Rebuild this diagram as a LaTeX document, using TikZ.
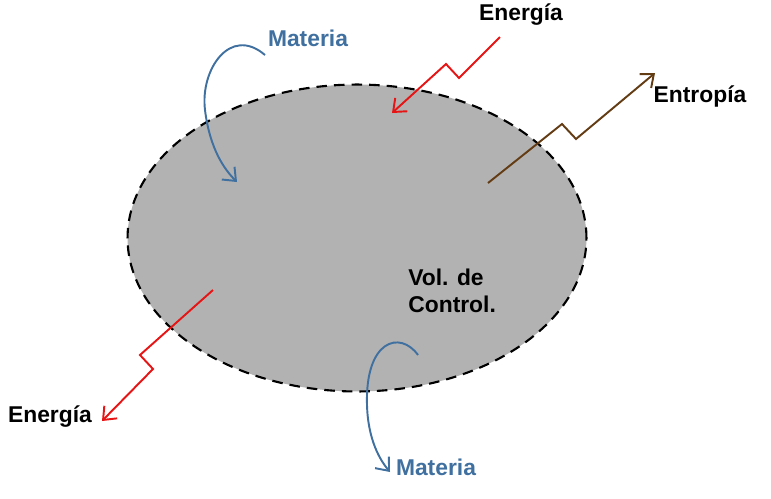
\documentclass[tikz,border=0pt]{standalone}
\usepackage{fontspec}
\setmainfont{Liberation Sans}
\usetikzlibrary{arrows.meta, shapes.geometric}
\definecolor{matblue}{RGB}{64,112,160}
\definecolor{enred}{RGB}{230,20,20}
\definecolor{entbrown}{RGB}{100,60,20}
\tikzset{
  txt/.style={font=\bfseries\fontsize{13}{15.5}\selectfont, inner sep=0pt},
  flow/.style={line width=1.1pt, -{Straight Barb[length=2.2mm, width=3.6mm]}}
}
\begin{document}
\begin{tikzpicture}[x=0.02cm, y=-0.02cm]
\useasboundingbox (0,0) rectangle (771,498);

% volume
\node[ellipse, draw, very thick, fill=gray!60, dash pattern=on 6pt off 4pt,
  minimum width=9.18cm, minimum height=6.14cm] (vol) at (357,238) {};
\node[txt, align=left, anchor=west] (vc) at (408,291) {Vol. de\\Control.};

% labels
\node[txt, text=matblue] (mat1) at (308,38) {Materia};
\node[txt, text=matblue] (mat2) at (436,467) {Materia};
\node[txt] (en1) at (521,15) {Energía};
\node[txt] (en2) at (50,417) {Energía};
\node[txt] (ent) at (700,96) {Entropía};

% connectors
\coordinate (e1a) at (500,37);  \coordinate (e1b) at (392,113);
\coordinate (sa) at (488,183);  \coordinate (sb) at (655,73);
\coordinate (e2a) at (213,290); \coordinate (e2b) at (102,421);
\coordinate (m1a) at (265,55);  \coordinate (m1b) at (237,182);
\coordinate (m2a) at (418,355); \coordinate (m2b) at (390,472);

\draw[flow, enred] (e1a) -- (459,78) -- (446,64) -- (e1b);
\draw[flow, entbrown] (sa) -- (562,124) -- (576,139) -- (sb);
\draw[flow, enred] (e2a) -- (140,355) -- (153,369) -- (e2b);
\draw[flow, matblue] (m1a) .. controls (230,25) and (200,70) .. (205,110)
  .. controls (210,150) and (225,170) .. (m1b);
\draw[flow, matblue] (m2a) .. controls (400,330) and (365,340) .. (367,405)
  .. controls (368,440) and (380,460) .. (m2b);
\end{tikzpicture}
\end{document}
